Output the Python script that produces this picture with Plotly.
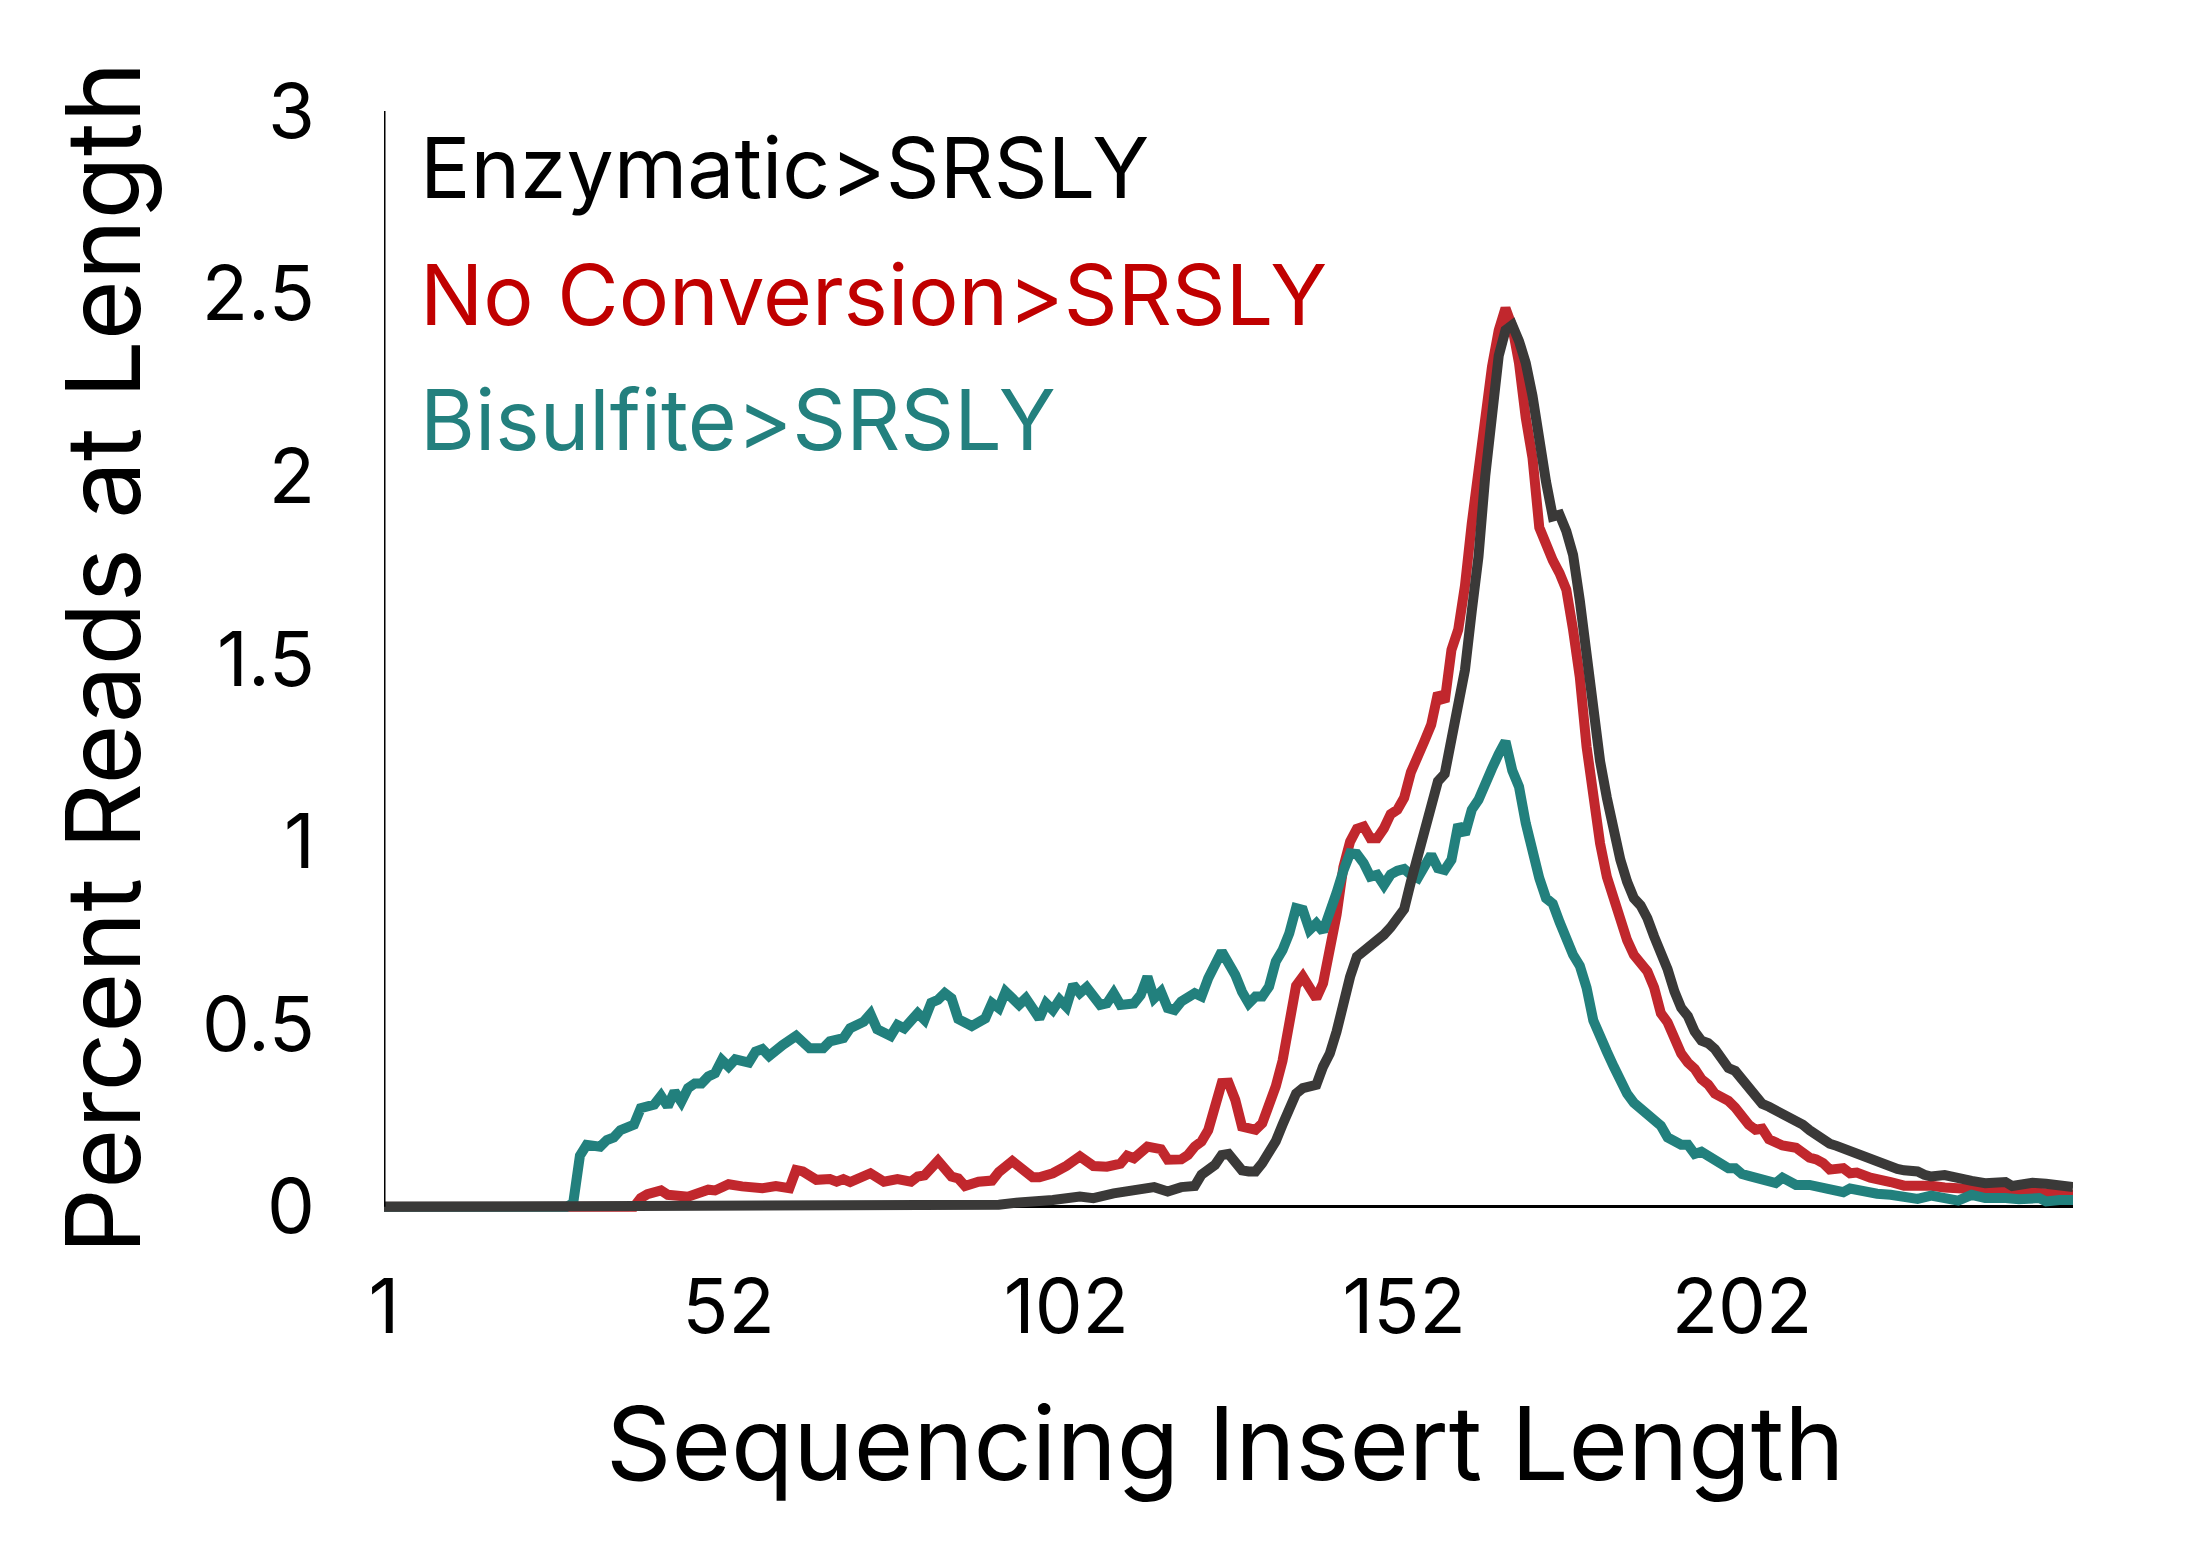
import plotly.graph_objects as go

# Insert length (bp index) and percent of reads
enz_len = [1, 40, 60, 75, 85, 92, 95, 98, 100, 104, 106, 109, 111, 113, 115, 117, 119, 121, 122,
           124, 125, 126, 127, 128, 129, 130, 131, 132, 133, 134, 135, 136, 137, 138, 139, 140,
           141, 142, 143, 144, 145, 146, 147, 148, 149, 150, 151, 152, 153, 154, 155, 156, 157,
           158, 159, 160, 161, 162, 163, 164, 165, 166, 167, 168, 169, 170, 171, 172, 173, 174,
           175, 176, 177, 178, 179, 180, 181, 182, 183, 184, 185, 186, 187, 188, 189, 190, 191,
           192, 193, 194, 195, 196, 197, 198, 199, 200, 201, 202, 203, 204, 205, 206, 207, 208,
           209, 210, 211, 212, 213, 214, 215, 216, 217, 218, 219, 220, 221, 222, 223, 224, 225,
           226, 228, 229, 230, 232, 234, 236, 238, 240, 241, 242, 243, 245, 247, 249, 251]
enz_pct = [0, 0, 0.002, 0.004, 0.005, 0.006, 0.012, 0.015, 0.019, 0.028, 0.024, 0.037, 0.042,
           0.047, 0.054, 0.042, 0.054, 0.057, 0.088, 0.115, 0.142, 0.145, 0.12, 0.1, 0.097, 0.097,
           0.12, 0.15, 0.18, 0.225, 0.275, 0.31, 0.325, 0.33, 0.334, 0.384, 0.42, 0.48, 0.56, 0.63,
           0.685, 0.699, 0.71, 0.725, 0.745, 0.765, 0.785, 0.815, 0.89, 0.955, 1.02, 1.08, 1.165,
           1.185, 1.29, 1.37, 1.47, 1.63, 1.78, 2.0, 2.16, 2.33, 2.4, 2.414, 2.37, 2.31, 2.22,
           2.08, 1.985, 1.89, 1.895, 1.85, 1.785, 1.66, 1.506, 1.36, 1.22, 1.12, 1.02, 0.95, 0.89,
           0.845, 0.825, 0.79, 0.74, 0.7, 0.65, 0.59, 0.545, 0.522, 0.48, 0.455, 0.448, 0.432,
           0.405, 0.38, 0.372, 0.35, 0.325, 0.305, 0.282, 0.274, 0.265, 0.258, 0.245, 0.233,
           0.225, 0.21, 0.195, 0.18, 0.173, 0.167, 0.16, 0.15, 0.143, 0.137, 0.126, 0.12, 0.116,
           0.112, 0.104, 0.1, 0.097, 0.088, 0.083, 0.087, 0.077, 0.071, 0.065, 0.065, 0.068,
           0.057, 0.06, 0.066, 0.063, 0.056, 0.054]

noconv_len = [1, 38, 39, 40, 42, 43, 46, 49, 50, 52, 54, 57, 59, 61, 62, 63, 65, 67, 68, 69, 70,
              71, 73, 75, 77, 79, 80, 81, 83, 85, 86, 87, 89, 91, 92, 94, 95, 97, 98, 100, 102,
              104, 106, 108, 110, 111, 112, 114, 116, 117, 119, 120, 121, 122, 123, 124, 125,
              126, 127, 128, 130, 131, 132, 133, 134, 135, 136, 137, 138, 139, 140, 141, 142,
              143, 144, 145, 146, 147, 148, 149, 150, 151, 152, 153, 154, 155, 156, 157, 158,
              159, 160, 161, 162, 163, 164, 165, 166, 167, 168, 169, 170, 171, 172, 173, 174,
              175, 176, 177, 178, 179, 180, 181, 182, 183, 184, 185, 186, 187, 188, 189, 190,
              191, 192, 193, 194, 195, 196, 197, 198, 199, 200, 201, 202, 203, 204, 205, 206,
              207, 208, 210, 211, 212, 213, 214, 215, 217, 218, 219, 221, 222, 224, 226, 228,
              230, 232, 234, 238, 242, 246, 251]
noconv_pct = [0, 0, 0.024, 0.035, 0.045, 0.033, 0.028, 0.047, 0.045, 0.062, 0.056, 0.051, 0.057,
              0.051, 0.101, 0.097, 0.074, 0.076, 0.069, 0.076, 0.068, 0.078, 0.092, 0.069, 0.076,
              0.069, 0.083, 0.086, 0.126, 0.083, 0.078, 0.057, 0.069, 0.072, 0.095, 0.125, 0.113,
              0.081, 0.081, 0.092, 0.112, 0.138, 0.112, 0.11, 0.118, 0.14, 0.133, 0.165, 0.158,
              0.129, 0.13, 0.142, 0.165, 0.179, 0.21, 0.27, 0.339, 0.34, 0.293, 0.22, 0.211,
              0.229, 0.279, 0.33, 0.4, 0.5, 0.605, 0.63, 0.599, 0.571, 0.612, 0.694, 0.8, 0.93,
              1.0, 1.035, 1.041, 1.009, 1.009, 1.036, 1.075, 1.087, 1.12, 1.19, 1.242, 1.275,
              1.32, 1.406, 1.383, 1.525, 1.58, 1.7, 1.87, 2.03, 2.18, 2.3, 2.4, 2.46, 2.41, 2.31,
              2.16, 2.05, 1.86, 1.81, 1.77, 1.735, 1.69, 1.58, 1.45, 1.26, 1.114, 0.995, 0.904,
              0.84, 0.8, 0.73, 0.69, 0.665, 0.645, 0.6, 0.53, 0.505, 0.46, 0.42, 0.395, 0.378,
              0.35, 0.335, 0.31, 0.302, 0.29, 0.272, 0.245, 0.225, 0.211, 0.214, 0.185, 0.175,
              0.168, 0.162, 0.145, 0.135, 0.13, 0.12, 0.102, 0.106, 0.092, 0.094, 0.08, 0.078,
              0.068, 0.058, 0.06, 0.058, 0.053, 0.051, 0.047, 0.042, 0.039, 0.033]

bis_len = [1, 28, 29, 30, 31, 33, 34, 35, 36, 38, 39, 41, 42, 43, 44, 45, 46, 47, 48, 49, 50, 51,
           52, 53, 55, 56, 57, 58, 60, 61, 62, 64, 66, 67, 69, 70, 72, 73, 74, 76, 77, 78, 80, 81,
           82, 83, 84, 85, 86, 88, 89, 90, 91, 92, 93, 95, 96, 98, 99, 100, 101, 102, 103, 104,
           105, 107, 108, 109, 110, 112, 113, 114, 115, 116, 117, 118, 119, 121, 122, 123, 125,
           127, 128, 129, 130, 131, 132, 133, 134, 135, 136, 137, 138, 139, 140, 141, 142, 143,
           144, 145, 146, 147, 148, 149, 150, 151, 152, 153, 154, 155, 156, 157, 158, 159, 160,
           161, 162, 163, 164, 165, 166, 167, 168, 169, 170, 171, 172, 173, 174, 175, 176, 177,
           178, 179, 180, 181, 182, 183, 184, 185, 186, 187, 188, 189, 190, 191, 192, 193, 194,
           195, 196, 197, 198, 199, 200, 201, 202, 203, 204, 205, 206, 207, 208, 209, 210, 212,
           213, 215, 216, 217, 218, 220, 222, 224, 226, 228, 230, 232, 234, 236, 238, 241, 243,
           246, 247, 249, 251]
bis_pct = [0, 0, 0.01, 0.14, 0.17, 0.165, 0.183, 0.19, 0.21, 0.225, 0.27, 0.28, 0.304, 0.275,
           0.316, 0.288, 0.325, 0.338, 0.338, 0.357, 0.366, 0.402, 0.384, 0.404, 0.395, 0.425,
           0.432, 0.413, 0.443, 0.453, 0.468, 0.434, 0.434, 0.453, 0.462, 0.489, 0.507, 0.528,
           0.486, 0.468, 0.498, 0.489, 0.53, 0.512, 0.559, 0.567, 0.585, 0.571, 0.514, 0.495,
           0.507, 0.516, 0.558, 0.544, 0.589, 0.553, 0.571, 0.516, 0.557, 0.539, 0.567, 0.548,
           0.608, 0.585, 0.601, 0.553, 0.557, 0.585, 0.553, 0.557, 0.58, 0.63, 0.571, 0.589,
           0.544, 0.539, 0.562, 0.585, 0.576, 0.626, 0.699, 0.635, 0.589, 0.557, 0.576, 0.576,
           0.603, 0.672, 0.703, 0.749, 0.818, 0.813, 0.758, 0.776, 0.754, 0.8, 0.86, 0.92,
           0.968, 0.966, 0.941, 0.904, 0.909, 0.881, 0.91, 0.92, 0.925, 0.909, 0.9, 0.932,
           0.964, 0.927, 0.922, 0.95, 1.046, 1.02, 1.087, 1.114, 1.15, 1.2, 1.24, 1.274, 1.195,
           1.15, 1.05, 0.97, 0.9, 0.845, 0.83, 0.78, 0.73, 0.69, 0.66, 0.6, 0.51, 0.46, 0.425,
           0.385, 0.345, 0.31, 0.285, 0.27, 0.25, 0.235, 0.222, 0.19, 0.18, 0.17, 0.17, 0.145,
           0.151, 0.14, 0.124, 0.115, 0.106, 0.106, 0.09, 0.085, 0.08, 0.076, 0.07, 0.065, 0.08,
           0.07, 0.06, 0.06, 0.057, 0.049, 0.044, 0.04, 0.05, 0.041, 0.036, 0.033, 0.029, 0.022,
           0.031, 0.026, 0.017, 0.033, 0.024, 0.024, 0.021, 0.024, 0.015, 0.019, 0.019]

x_ticks = [1, 52, 102, 152, 202]
y_ticks = [0, 0.5, 1, 1.5, 2, 2.5, 3]
y_tick_text = ["0", "0.5", "1", "1.5", "2", "2.5", "3"]

FONT = "Inter"

fig = go.Figure()
fig.add_trace(go.Scatter(x=noconv_len, y=noconv_pct, mode="lines",
                         line=dict(color="#C1272D", width=10), name="No Conversion>SRSLY"))
fig.add_trace(go.Scatter(x=bis_len, y=bis_pct, mode="lines",
                         line=dict(color="#22807D", width=10), name="Bisulfite>SRSLY"))
fig.add_trace(go.Scatter(x=enz_len, y=enz_pct, mode="lines",
                         line=dict(color="#3A3938", width=10), name="Enzymatic>SRSLY"))

# page body has an 8px margin, so the margins are pulled in by 8px
fig.update_layout(
    width=2195,
    height=1567,
    margin=dict(l=376, r=130, t=103, b=359),
    plot_bgcolor="white",
    paper_bgcolor="white",
    showlegend=False,
    font=dict(family=FONT, color="black"),
)

fig.update_xaxes(
    range=[1, 251],
    tickvals=x_ticks,
    tickfont=dict(size=76, family=FONT),
    showgrid=False,
    zeroline=False,
    showline=False,
    ticks="",
    ticklabelstandoff=40,
)
fig.update_yaxes(
    range=[-0.025, 3],
    tickvals=y_ticks,
    ticktext=y_tick_text,
    tickfont=dict(size=76, family=FONT),
    showgrid=False,
    zeroline=True,
    zerolinecolor="black",
    zerolinewidth=3,
    showline=False,
    ticks="",
    ticklabelstandoff=68,
)

# y axis line from 0 to 3
fig.add_shape(type="line", xref="x", yref="y", x0=1, x1=1, y0=0, y1=3,
              line=dict(color="black", width=3))

# text legend, top left inside plot
legend_items = [("Enzymatic>SRSLY", "#000000", 0.9485),
                ("No Conversion>SRSLY", "#C00000", 0.8337),
                ("Bisulfite>SRSLY", "#23807E", 0.721)]
for label, color, ypos in legend_items:
    fig.add_annotation(text=label, xref="paper", yref="paper", x=0.020, y=ypos,
                       xanchor="left", yanchor="middle", showarrow=False,
                       font=dict(size=84, color=color, family=FONT))

fig.add_annotation(text="Sequencing Insert Length", xref="paper", yref="paper",
                   x=0.498, y=-0.205, xanchor="center", yanchor="middle", showarrow=False,
                   font=dict(size=102, color="black", family=FONT))
fig.add_annotation(text="Percent Reads at Length", xref="paper", yref="paper",
                   x=-0.1664, y=0.505, xanchor="center", yanchor="middle", showarrow=False,
                   textangle=-90, font=dict(size=103, color="black", family=FONT))

fig.write_html("out.html")
